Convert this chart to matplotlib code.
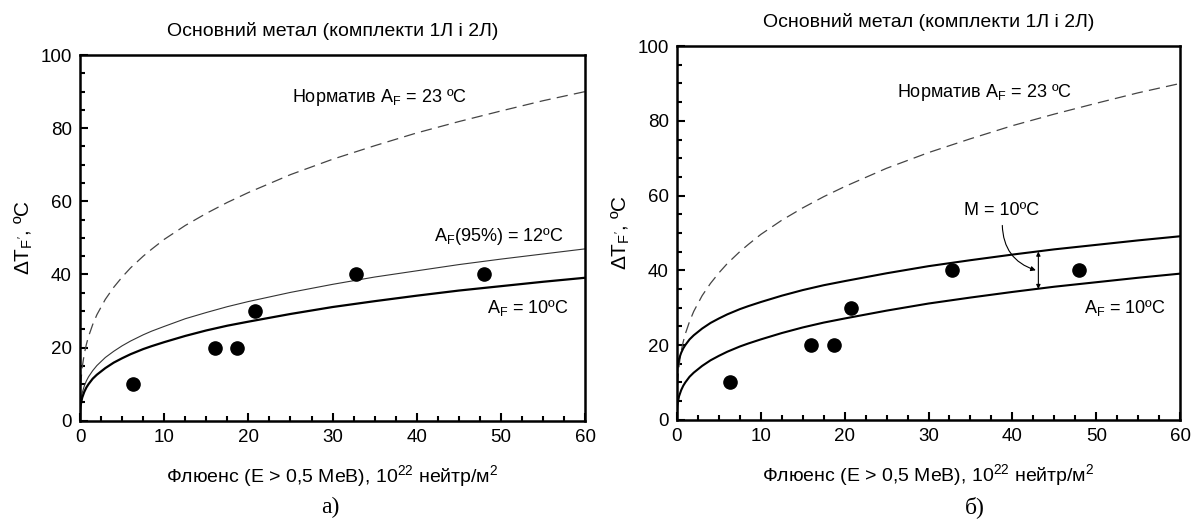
import numpy as np
import matplotlib.pyplot as plt
from matplotlib.ticker import MultipleLocator

plt.rcParams['font.family'] = ['Liberation Sans', 'DejaVu Sans']
plt.rcParams['mathtext.fontset'] = 'custom'
plt.rcParams['mathtext.rm'] = 'Liberation Sans'
plt.rcParams['mathtext.it'] = 'Liberation Sans'

fluence = [0, 0.02, 0.05, 0.1, 0.25, 0.5, 0.75, 1, 1.5, 2, 3, 4, 5, 6,
           7.5, 8.5, 10, 12.5, 15, 17.5, 20, 25, 30, 35, 40, 45, 50, 55, 60]

# normative curve A_F = 23 C
norm_23 = [0, 6.2, 8.5, 10.7, 14.5, 18.3, 20.9, 23.0, 26.3, 29.0, 33.2,
           36.5, 39.3, 41.8, 45.0, 46.9, 49.6, 53.4, 56.7, 59.7, 62.4,
           67.3, 71.5, 75.2, 78.7, 81.8, 84.7, 87.5, 90.0]
# A_F(95%) = 12 C
af_95 = [0, 3.3, 4.4, 5.6, 7.6, 9.5, 10.9, 12.0, 13.7, 15.1, 17.3,
         19.0, 20.5, 21.8, 23.5, 24.5, 25.8, 27.9, 29.6, 31.2, 32.6,
         35.1, 37.3, 39.3, 41.0, 42.7, 44.2, 45.6, 47.0]
# A_F = 10 C
af_10 = [0, 2.7, 3.7, 4.6, 6.3, 7.9, 9.1, 10.0, 11.5, 12.6, 14.4,
         15.9, 17.1, 18.2, 19.6, 20.4, 21.5, 23.2, 24.7, 26.0, 27.1,
         29.2, 31.1, 32.7, 34.2, 35.6, 36.8, 38.0, 39.1]
# A_F = 10 C plus margin M = 10 C
af_10_m = [10, 12.7, 13.7, 14.6, 16.3, 17.9, 19.1, 20.0, 21.5, 22.6, 24.4,
           25.9, 27.1, 28.2, 29.6, 30.4, 31.5, 33.2, 34.7, 36.0, 37.1,
           39.2, 41.1, 42.7, 44.2, 45.6, 46.8, 48.0, 49.1]

# measured points
pts_f = [6.3, 16.0, 18.7, 20.8, 32.8, 48.0]
pts_dt = [10, 20, 20, 30, 40, 40]

TITLE = "Основний метал (комплекти 1Л і 2Л)"
XLABEL = "Флюенс (E > 0,5 MeB), 10$^{22}$ нейтр/м$^2$"
YLABEL = "ΔT$_{F'}$, ºC"
FS = 13


def setup_axes(ax):

    ax.set_xlim(0, 60)
    ax.set_ylim(0, 100)
    ax.xaxis.set_major_locator(MultipleLocator(10))
    ax.xaxis.set_minor_locator(MultipleLocator(2.5))
    ax.yaxis.set_major_locator(MultipleLocator(20))
    ax.yaxis.set_minor_locator(MultipleLocator(5))
    ax.tick_params(which='both', direction='in', width=1.5,
                   labelsize=13.5, top=False, right=False)
    ax.tick_params(which='major', length=6, pad=6)
    ax.tick_params(which='minor', length=3.5)
    for s in ax.spines.values():
        s.set_linewidth(1.8)
    ax.set_title(TITLE, fontsize=14, pad=14)
    ax.set_xlabel(XLABEL, fontsize=14, labelpad=12)
    ax.set_ylabel(YLABEL, fontsize=15, labelpad=4)


fig = plt.figure(figsize=(11.95, 5.24), dpi=100)

ax1 = fig.add_axes([0.067, 0.197, 0.4226, 0.698])
ax2 = fig.add_axes([0.5665, 0.199, 0.421, 0.713])

# -------------------------
# a)
# -------------------------

ax1.plot(fluence, norm_23, color='#444444', lw=0.9, ls=(0, (9, 5)))
ax1.plot(fluence, af_95, color='#333333', lw=0.8)
ax1.plot(fluence, af_10, color='black', lw=1.6)
ax1.plot(pts_f, pts_dt, 'o', color='black', ms=9.5)

ax1.text(25.2, 88.5, "Норматив A$_F$ = 23 ºC", fontsize=FS, va='center')
ax1.text(42.0, 50.3, "A$_F$(95%) = 12ºC", fontsize=FS, va='center')
ax1.text(48.3, 30.9, "A$_F$ = 10ºC", fontsize=FS, va='center')
setup_axes(ax1)

# -------------------------
# б)
# -------------------------

ax2.plot(fluence, norm_23, color='#444444', lw=0.9, ls=(0, (9, 5)))
ax2.plot(fluence, af_10_m, color='black', lw=1.5)
ax2.plot(fluence, af_10, color='black', lw=1.5)
ax2.plot(pts_f, pts_dt, 'o', color='black', ms=9.5)

ax2.text(26.2, 87.7, "Норматив A$_F$ = 23 ºC", fontsize=FS, va='center')
ax2.text(34.2, 56.1, "M = 10ºC", fontsize=FS, va='center')
ax2.text(48.5, 30.0, "A$_F$ = 10ºC", fontsize=FS, va='center')

ax2.annotate("", xy=(43.1, 45.0), xytext=(43.1, 35.0),
             arrowprops=dict(arrowstyle='<|-|>', color='black', lw=0.8,
                             mutation_scale=6, shrinkA=0, shrinkB=0))
ax2.annotate("", xy=(42.8, 40.0), xytext=(38.8, 52.0),
             arrowprops=dict(arrowstyle='-|>', color='black', lw=0.8,
                             mutation_scale=7, shrinkA=0, shrinkB=0,
                             connectionstyle='arc3,rad=0.35'))
setup_axes(ax2)

fig.text(0.276, 0.02, "а)", fontsize=17, family='Liberation Serif', ha='center')
fig.text(0.816, 0.02, "б)", fontsize=17, family='Liberation Serif', ha='center')

fig.savefig("out.png", dpi=100)
